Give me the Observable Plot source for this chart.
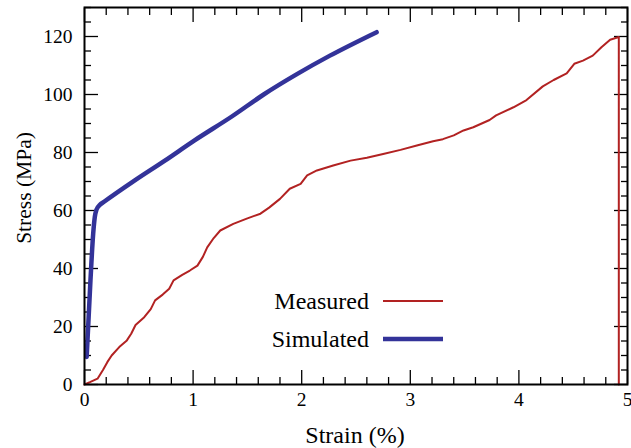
<!DOCTYPE html>
<html>
<head>
<meta charset="utf-8">
<script src="https://cdn.jsdelivr.net/npm/d3@7"></script>
<script src="https://cdn.jsdelivr.net/npm/@observablehq/plot@0.6"></script>
<style>
  html, body { margin: 0; padding: 0; background: white; }
  #wrap { position: relative; width: 631px; height: 448px; }
  #legend { position: absolute; left: 0; top: 0; pointer-events: none; }
</style>
</head>
<body>
<div id="wrap"></div>
<script>
// Measured curve (strain %, stress MPa)
const strainMeasured = [0, 0.05, 0.12, 0.17, 0.21, 0.25, 0.32, 0.39, 0.43, 0.47, 0.55, 0.61, 0.65, 0.72, 0.78, 0.82, 0.9, 0.97, 1.04, 1.09, 1.13, 1.19, 1.25, 1.37, 1.5, 1.62, 1.7, 1.80, 1.89, 1.99, 2.05, 2.14, 2.29, 2.45, 2.60, 2.75, 2.91, 3.06, 3.21, 3.30, 3.40, 3.49, 3.58, 3.73, 3.79, 3.95, 4.07, 4.22, 4.32, 4.44, 4.51, 4.59, 4.68, 4.76, 4.84, 4.92, 4.92];
const stressMeasured = [0, 0.8, 2, 5, 7.7, 10, 12.9, 15.2, 17.5, 20.5, 23.2, 26, 29, 31, 33, 35.9, 37.8, 39.3, 41, 44, 47.3, 50.5, 53.1, 55.4, 57.3, 58.9, 61, 64, 67.5, 69.2, 72.1, 73.8, 75.5, 77.2, 78.2, 79.5, 80.9, 82.4, 83.9, 84.6, 85.9, 87.6, 88.7, 91.2, 92.8, 95.6, 98.1, 102.8, 105, 107.3, 110.6, 111.7, 113.4, 116.3, 118.9, 119.8, 0];
// Simulated curve
const strainSim = [0.02, 0.055, 0.08, 0.095, 0.11, 0.14, 0.18, 0.46, 0.74, 1.01, 1.36, 1.65, 1.96, 2.26, 2.69];
const stressSim = [9.5, 36, 52, 57.8, 60.3, 61.9, 63, 70.3, 77.2, 84.1, 92.5, 100, 107.1, 113.4, 121.5];

const seriesNames = ["Measured", "Simulated"];
const seriesColors = ["#b22222", "#333399"];
const seriesWidths = [2, 4.5];

const xMajor = [0, 1, 2, 3, 4, 5];
const yMajor = [0, 20, 40, 60, 80, 100, 120];
const xMinor = d3.range(0, 5.0001, 0.2).map(v => +v.toFixed(2)).filter(v => !xMajor.includes(v));
const yMinor = d3.range(0, 130.001, 5).filter(v => !yMajor.includes(v));

const measured = strainMeasured.map((x, i) => ({x, y: stressMeasured[i]}));
const simulated = strainSim.map((x, i) => ({x, y: stressSim[i]}));

function inTicks(fn, anchor, ticks, size) {
  const off = {bottom: {dy: -size}, top: {dy: size}, left: {dx: size}, right: {dx: -size}}[anchor];
  return fn({anchor, ticks, tickSize: size, tickFormat: () => "", label: null, strokeWidth: 1.3, ...off});
}

const chart = Plot.plot({
  width: 631,
  height: 448,
  marginLeft: 84,
  marginRight: 4,
  marginTop: 7,
  marginBottom: 64,
  x: {domain: [0, 5]},
  y: {domain: [0, 130]},
  style: {fontFamily: "'Liberation Serif', 'DejaVu Serif', serif", fontSize: "19.5px", background: "white", color: "black"},
  marks: [
    inTicks(Plot.axisX, "bottom", xMajor, 14),
    inTicks(Plot.axisX, "bottom", xMinor, 7),
    inTicks(Plot.axisX, "top", xMajor, 14),
    inTicks(Plot.axisX, "top", xMinor, 7),
    inTicks(Plot.axisY, "left", yMajor, 14),
    inTicks(Plot.axisY, "left", yMinor, 7),
    inTicks(Plot.axisY, "right", yMajor, 14),
    inTicks(Plot.axisY, "right", yMinor, 7),
    Plot.axisX({anchor: "bottom", ticks: xMajor, tickSize: 0, tickPadding: 8, tickFormat: d => String(d), fontSize: 19.5, label: null}),
    Plot.axisY({anchor: "left", ticks: yMajor, tickSize: 0, tickPadding: 12, tickFormat: d => String(d), fontSize: 19.5, label: null}),
    Plot.line(measured, {x: "x", y: "y", stroke: seriesColors[0], strokeWidth: seriesWidths[0]}),
    Plot.line(simulated, {x: "x", y: "y", stroke: seriesColors[1], strokeWidth: seriesWidths[1], strokeLinejoin: "round", curve: "monotone-x"}),
    Plot.frame({stroke: "black", strokeWidth: 2})
  ]
});

const wrap = document.getElementById("wrap");
wrap.appendChild(chart);

// Overlay: axis titles and legend
const svgNS = "http://www.w3.org/2000/svg";
const ov = document.createElementNS(svgNS, "svg");
ov.setAttribute("id", "legend");
ov.setAttribute("width", 631);
ov.setAttribute("height", 448);
function addText(str, x, y, size, anchor, rotate) {
  const t = document.createElementNS(svgNS, "text");
  t.setAttribute("x", x);
  t.setAttribute("y", y);
  t.setAttribute("text-anchor", anchor);
  t.setAttribute("font-family", "'Liberation Serif', serif");
  t.setAttribute("font-size", size);
  if (rotate) t.setAttribute("transform", `rotate(${rotate} ${x} ${y})`);
  t.textContent = str;
  ov.appendChild(t);
}
addText("Strain (%)", 355, 443, 24, "middle");
addText("Stress (MPa)", 31, 188, 21.5, "middle", -90);
const rowY = [301, 339];
seriesNames.forEach((name, i) => {
  addText(name, 369, rowY[i] + 8, 24, "end");
  const l = document.createElementNS(svgNS, "line");
  l.setAttribute("x1", 383);
  l.setAttribute("x2", 443);
  l.setAttribute("y1", rowY[i]);
  l.setAttribute("y2", rowY[i]);
  l.setAttribute("stroke", seriesColors[i]);
  l.setAttribute("stroke-width", seriesWidths[i]);
  ov.appendChild(l);
});
wrap.appendChild(ov);
</script>
</body>
</html>
